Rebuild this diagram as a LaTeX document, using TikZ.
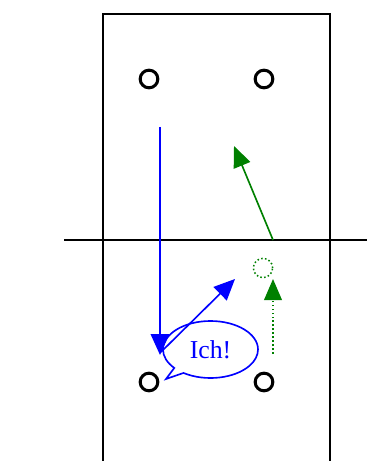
\documentclass[tikz,border=0pt]{standalone}
\usepackage{fontspec}
\setmainfont{Liberation Serif}
\usetikzlibrary{arrows.meta,shapes.callouts,shapes.geometric}
\begin{document}
\begin{tikzpicture}[x=0.03cm,y=-0.03cm,
  thinline/.style={line width=1.4pt},
  hole/.style={circle,draw=black,line width=2.6pt,minimum size=0.53cm,inner sep=0pt},
  bigtip/.style={-{Triangle[length=0.63cm,width=0.56cm]}},
  greentip/.style={-{Triangle[length=0.63cm,width=0.53cm]}}]
\useasboundingbox (0,0) rectangle (366,461);
% frame
\coordinate (rtl) at (103,14);
\coordinate (rtr) at (330,14);
\coordinate (rbl) at (103,470);
\coordinate (rbr) at (330,470);
\draw[thinline] (rbl) -- (rtl) -- (rtr) -- (rbr);
% horizontal line
\coordinate (hl) at (64,240);
\coordinate (hr) at (370,240);
\draw[thinline] (hl) -- (hr);
% circles
\node[hole] (c1) at (149,79) {};
\node[hole] (c2) at (264,79) {};
\node[hole] (c3) at (149,382) {};
\node[hole] (c4) at (264,382) {};
% blue vertical arrow
\coordinate (bv0) at (160,127);
\coordinate (bv1) at (160,355);
\draw[blue,thinline,bigtip] (bv0) -- (bv1);
% blue diagonal arrow
\coordinate (bd0) at (161,352);
\coordinate (bd1) at (235,279);
\draw[blue,thinline,bigtip] (bd0) -- (bd1);
% green arrow
\coordinate (g0) at (273,240);
\coordinate (g1) at (234,146);
\draw[green!50!black,thinline,greentip] (g0) -- (g1);
% green dotted circle
\node[circle,draw=green!50!black,dotted,line width=1.3pt,minimum size=0.58cm,inner sep=0pt] (gc) at (263,268) {};
% green dotted arrow
\coordinate (gd0) at (273,354);
\coordinate (gd1) at (273,279);
\draw[green!50!black,thinline,dotted,-{Triangle[length=0.63cm,width=0.53cm,sep=0pt]}] (gd0) -- (gd1);
% callout
\coordinate (ptr) at (166,379);
\node[ellipse callout,draw=blue,thinline,text=blue,callout absolute pointer={(ptr)},
  minimum width=2.85cm,minimum height=1.71cm,inner sep=0pt,
  font=\fontsize{22}{24}\selectfont] (ich) at (210.5,349.5) {Ich!};
\end{tikzpicture}
\end{document}
